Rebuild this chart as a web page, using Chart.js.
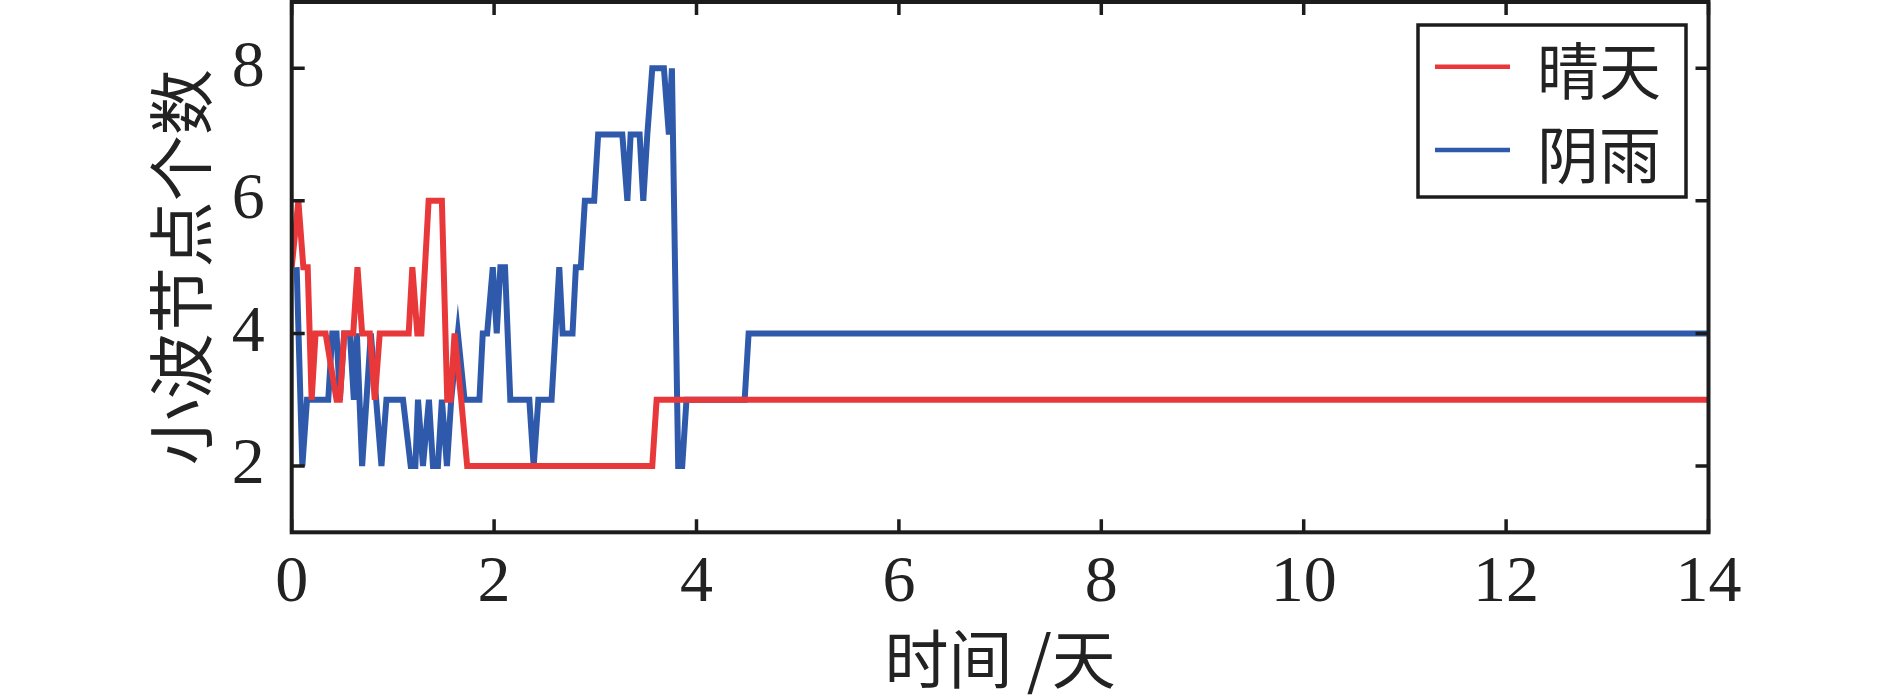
<!DOCTYPE html>
<html>
<head>
<meta charset="utf-8">
<script src="https://cdn.jsdelivr.net/npm/chart.js@4.4.1/dist/chart.umd.min.js"></script>
<style>
  html, body { margin: 0; padding: 0; background: #fff; }
  canvas { display: block; }
</style>
</head>
<body>
<canvas id="nodeChart" width="1890" height="700"></canvas>
<script>
// Number of wavelet nodes over time, sunny vs rainy (time in days)
const seriesNames = ['晴天', '阴雨'];

const sunnyDays = [0, 0.066, 0.115, 0.158, 0.197, 0.236, 0.335, 0.443, 0.476, 0.519, 0.608,
  0.650, 0.696, 0.772, 0.821, 0.870, 1.156, 1.192, 1.241, 1.281, 1.353, 1.484, 1.537,
  1.570, 1.609, 1.675, 1.734, 3.563, 3.606, 14];
const sunnyCounts = [5, 6, 5, 5, 3, 4, 4, 3, 3, 4, 4,
  5, 4, 4, 3, 4, 4, 5, 4, 4, 6, 6, 3,
  3, 4, 3, 2, 2, 3, 3];

const rainyDays = [0.049, 0.105, 0.151, 0.361, 0.401, 0.443, 0.476, 0.519, 0.575, 0.614,
  0.644, 0.696, 0.782, 0.887, 0.936, 1.100, 1.176, 1.222, 1.248, 1.297, 1.356, 1.396,
  1.445, 1.484, 1.534, 1.576, 1.642, 1.708, 1.855, 1.888, 1.931, 1.987, 2.026, 2.062,
  2.108, 2.160, 2.348, 2.391, 2.437, 2.568, 2.644, 2.677, 2.775, 2.808, 2.857, 2.897,
  2.989, 3.028, 3.267, 3.317, 3.349, 3.438, 3.474, 3.514, 3.563, 3.678, 3.727, 3.757,
  3.819, 3.859, 3.901, 4.476, 4.515, 14];
const rainyCounts = [5, 2, 3, 3, 4, 4, 3, 4, 4, 3,
  4, 2, 4, 2, 3, 3, 2, 2, 3, 2, 3, 2,
  2, 3, 2, 3, 4, 3, 3, 4, 4, 5, 4, 5,
  5, 3, 3, 2, 3, 3, 5, 4, 4, 5, 5, 6,
  6, 7, 7, 6, 7, 7, 6, 7, 8, 8, 7, 8,
  2, 2, 3, 3, 4, 4];

const xTicks = [0, 2, 4, 6, 8, 10, 12, 14];
const yTicks = [2, 4, 6, 8];

const RED = '#e8383a';
const BLUE = '#2f5aab';
const INK = '#1c1c1c';
const cjk = '"Noto Sans CJK SC", sans-serif';
const serif = '"Liberation Serif", "DejaVu Serif", serif';

const toPoints = (xs, ys) => xs.map((x, i) => ({ x: x, y: ys[i] }));

// box round the plot with inward ticks on all four sides
const framePlugin = {
  id: 'frame',
  afterDatasetsDraw(chart) {
    const { ctx, chartArea: a, scales } = chart;
    const len = 13;
    ctx.save();
    ctx.strokeStyle = INK;
    ctx.lineWidth = 3.5;
    ctx.beginPath();
    xTicks.forEach(v => {
      const px = scales.x.getPixelForValue(v);
      ctx.moveTo(px, a.bottom); ctx.lineTo(px, a.bottom - len);
      ctx.moveTo(px, a.top); ctx.lineTo(px, a.top + len);
    });
    yTicks.forEach(v => {
      const py = scales.y.getPixelForValue(v);
      ctx.moveTo(a.left, py); ctx.lineTo(a.left + len, py);
      ctx.moveTo(a.right, py); ctx.lineTo(a.right - len, py);
    });
    ctx.stroke();
    ctx.lineWidth = 4;
    ctx.strokeRect(a.left, a.top, a.right - a.left, a.bottom - a.top);
    ctx.restore();
  }
};

// framed legend in the upper right corner
const boxLegendPlugin = {
  id: 'boxLegend',
  afterDraw(chart) {
    const { ctx } = chart;
    const bx = 1418, by = 25, bw = 268, bh = 172;
    const rows = [66.7, 150];
    ctx.save();
    ctx.fillStyle = '#fff';
    ctx.fillRect(bx, by, bw, bh);
    ctx.strokeStyle = INK;
    ctx.lineWidth = 3.5;
    ctx.strokeRect(bx, by, bw, bh);
    chart.data.datasets.forEach((ds, i) => {
      ctx.strokeStyle = ds.borderColor;
      ctx.lineWidth = 4.5;
      ctx.beginPath();
      ctx.moveTo(1435, rows[i]);
      ctx.lineTo(1510, rows[i]);
      ctx.stroke();
      ctx.fillStyle = '#222';
      ctx.font = '62px ' + cjk;
      ctx.textBaseline = 'middle';
      ctx.textAlign = 'left';
      ctx.fillText(ds.label, 1537, rows[i] + 5);
    });
    ctx.restore();
  }
};

new Chart(document.getElementById('nodeChart'), {
  type: 'line',
  data: {
    datasets: [{
      label: seriesNames[0],
      data: toPoints(sunnyDays, sunnyCounts),
      borderColor: RED,
      borderWidth: 6,
      pointRadius: 0,
      tension: 0
    }, {
      label: seriesNames[1],
      data: toPoints(rainyDays, rainyCounts),
      borderColor: BLUE,
      borderWidth: 6,
      pointRadius: 0,
      tension: 0
    }]
  },
  options: {
    responsive: false,
    animation: false,
    layout: { padding: { left: 0, right: 181.5, top: 2, bottom: 0 } },
    plugins: {
      legend: { display: false },
      tooltip: { enabled: false }
    },
    scales: {
      x: {
        type: 'linear',
        min: 0,
        max: 14,
        afterBuildTicks: scale => { scale.ticks = xTicks.map(v => ({ value: v })); },
        afterFit: scale => { scale.height = 167.7; scale.paddingLeft = 0; scale.paddingRight = 0; },
        grid: { display: false, drawTicks: false },
        border: { display: false },
        ticks: { color: '#222', font: { family: serif, size: 66 }, padding: 12, maxRotation: 0 },
        title: {
          display: true,
          text: '时间 /天',
          color: '#222',
          font: { family: cjk, size: 64 },
          padding: { top: 0, bottom: 3 }
        }
      },
      y: {
        min: 1,
        max: 9,
        afterBuildTicks: scale => { scale.ticks = yTicks.map(v => ({ value: v })); },
        afterFit: scale => { scale.width = 291.7; scale.paddingTop = 0; scale.paddingBottom = 0; },
        grid: { display: false, drawTicks: false },
        border: { display: false },
        ticks: { color: '#222', font: { family: serif, size: 66 }, padding: 27 },
        title: {
          display: true,
          text: '小波节点个数',
          color: '#222',
          font: { family: cjk, size: 66 },
          padding: { top: 141, bottom: 0 }
        }
      }
    }
  },
  plugins: [framePlugin, boxLegendPlugin]
});
</script>
</body>
</html>
